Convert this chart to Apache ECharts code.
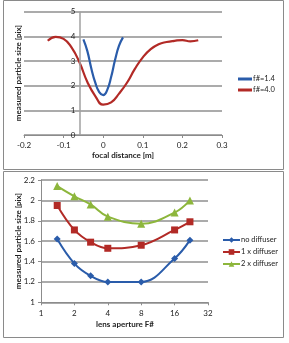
<!DOCTYPE html>
<html><head><meta charset="utf-8">
<script src="https://cdn.jsdelivr.net/npm/echarts@6/dist/echarts.min.js"></script>
<style>html,body{margin:0;padding:0;background:#fff}#c{width:289px;height:343px}</style>
</head><body><div id="c"></div>
<script>
// Top chart: focal distance sweep
const focalX14 = [-0.05, -0.04, -0.03, -0.02, -0.01, 0, 0.01, 0.02, 0.03, 0.04, 0.05];
const size14   = [3.88, 3.4, 2.7, 2.12, 1.74, 1.62, 1.82, 2.35, 3.05, 3.62, 3.96];
const focalX40 = [-0.14, -0.12, -0.10, -0.08, -0.06, -0.04, -0.02, 0, 0.02, 0.04, 0.06, 0.08, 0.10, 0.12, 0.14, 0.16, 0.18, 0.20, 0.22, 0.24];
const size40   = [3.82, 3.98, 3.9, 3.55, 2.95, 2.15, 1.58, 1.23, 1.32, 1.68, 2.12, 2.68, 3.15, 3.48, 3.68, 3.77, 3.82, 3.85, 3.8, 3.84];
const topXTicks = [-0.2, 0.3, 0.1];
const topYTicks = [0, 5, 1];
const topYCrossX = -0.06;   // where the vertical axis crosses the focal-distance axis
// Bottom chart: lens aperture
const fNumbers    = [1.4, 2, 2.8, 4, 8, 16, 22];
const noDiffuser  = [1.62, 1.38, 1.26, 1.20, 1.20, 1.43, 1.61];
const oneDiffuser = [1.95, 1.71, 1.59, 1.53, 1.56, 1.71, 1.79];
const twoDiffuser = [2.14, 2.04, 1.96, 1.84, 1.77, 1.88, 2.00];
const botYTicks = [1, 2.2, 0.2];

const F = 'Lato, "Open Sans", sans-serif';
const GRID = '#ababab', AX = '#8c8c8c', TXT = '#222';
const BLUE = '#2a5caa', RED = '#b22a26', GREEN = '#8db63c';
const pairs = (xs, ys) => xs.map((x, i) => [x, ys[i]]);

const chart = echarts.init(document.getElementById('c'), null, {renderer: 'canvas'});
const lbl = {fontFamily: F, fontSize: 8, color: TXT};
chart.setOption({
  animation: false,
  grid: [
    {left: 24, top: 11.7, width: 198, height: 123.3},
    {left: 41, top: 180, width: 167, height: 122.3}
  ],
  xAxis: [
    {gridIndex: 0, type: 'value', min: topXTicks[0], max: topXTicks[1], interval: topXTicks[2],
     axisLine: {show: true, onZero: false, lineStyle: {color: AX, width: 1}},
     axisTick: {show: true, length: 3, lineStyle: {color: AX}},
     axisLabel: Object.assign({margin: 6, formatter: v => String(Math.round(v * 10) / 10)}, lbl),
     splitLine: {show: false}},
    {gridIndex: 1, type: 'log', logBase: 2, min: 1, max: 32,
     axisLine: {show: true, onZero: false, lineStyle: {color: AX, width: 1}},
     axisTick: {show: true, length: 3, lineStyle: {color: AX}},
     axisLabel: Object.assign({margin: 7}, lbl),
     splitLine: {show: false}}
  ],
  yAxis: [
    {gridIndex: 0, type: 'value', min: topYTicks[0], max: topYTicks[1], interval: topYTicks[2],
     axisLine: {show: false, onZero: false}, axisTick: {show: false},
     axisLabel: Object.assign({margin: -51.4, align: 'right'}, lbl),
     splitLine: {show: true, lineStyle: {color: GRID, width: 2}}},
    {gridIndex: 1, type: 'value', min: botYTicks[0], max: botYTicks[1], interval: botYTicks[2],
     axisLine: {show: true, onZero: false, lineStyle: {color: AX, width: 1}},
     axisTick: {show: true, length: 3, inside: false, lineStyle: {color: AX}},
     axisLabel: Object.assign({margin: 6, formatter: v => String(Math.round(v * 10) / 10)}, lbl),
     splitLine: {show: true, lineStyle: {color: GRID, width: 2}}}
  ],
  legend: [
    {orient: 'vertical', left: 238, top: 75, padding: 0, itemWidth: 14, itemHeight: 3, itemGap: 3,
     textStyle: {fontFamily: F, fontSize: 7.5, color: TXT, padding: [0, 0, 0, -4]},
     data: [{name: 'f#=1.4', icon: 'rect'}, {name: 'f#=4.0', icon: 'rect'}]},
    {orient: 'vertical', left: 222, top: 236, padding: 0, itemWidth: 17, itemHeight: 7, itemGap: 4,
     textStyle: {fontFamily: F, fontSize: 7.5, color: TXT, padding: [0, 0, 0, -4]},
     data: ['no diffuser', '1 x diffuser', '2 x diffuser']}
  ],
  series: [
    {name: 'f#=1.4', type: 'line', xAxisIndex: 0, yAxisIndex: 0, smooth: 0.5, showSymbol: false,
     data: pairs(focalX14, size14), lineStyle: {color: BLUE, width: 2.2}, itemStyle: {color: BLUE}, z: 3},
    {name: 'f#=4.0', type: 'line', xAxisIndex: 0, yAxisIndex: 0, smooth: 0.5, showSymbol: false,
     data: pairs(focalX40, size40), lineStyle: {color: RED, width: 2.2}, itemStyle: {color: RED}, z: 3,
     markLine: {silent: true, symbol: ['none', 'none'], label: {show: false}, animation: false,
       lineStyle: {color: '#a0a0a0', width: 1.5, type: 'solid'}, emphasis: {disabled: true},
       data: [{xAxis: topYCrossX}]}},
    {name: 'no diffuser', type: 'line', xAxisIndex: 1, yAxisIndex: 1, smooth: 0.4,
     symbol: 'diamond', symbolSize: 7, data: pairs(fNumbers, noDiffuser),
     lineStyle: {color: BLUE, width: 2}, itemStyle: {color: BLUE}},
    {name: '1 x diffuser', type: 'line', xAxisIndex: 1, yAxisIndex: 1, smooth: 0.4,
     symbol: 'rect', symbolSize: 7, data: pairs(fNumbers, oneDiffuser),
     lineStyle: {color: RED, width: 2}, itemStyle: {color: RED}},
    {name: '2 x diffuser', type: 'line', xAxisIndex: 1, yAxisIndex: 1, smooth: 0.4,
     symbol: 'triangle', symbolSize: 8, data: pairs(fNumbers, twoDiffuser),
     lineStyle: {color: GREEN, width: 2}, itemStyle: {color: GREEN}}
  ],
  graphic: [
    {type: 'rect', shape: {x: 3.5, y: 0.5, width: 280, height: 169}, style: {fill: 'none', stroke: '#8a8a8a', lineWidth: 1}, z: -1},
    {type: 'rect', shape: {x: 3.5, y: 171.5, width: 280, height: 166}, style: {fill: 'none', stroke: '#8a8a8a', lineWidth: 1}, z: -1},
    {type: 'text', x: 123, y: 155, style: {text: 'focal distance [m]', font: 'bold 8px ' + F, fill: TXT, textAlign: 'center', textVerticalAlign: 'middle'}},
    {type: 'text', x: 18, y: 73, rotation: Math.PI / 2, style: {text: 'measured particle size [pix]', font: 'bold 8px ' + F, fill: TXT, textAlign: 'center', textVerticalAlign: 'middle'}},
    {type: 'text', x: 125, y: 324, style: {text: 'lens aperture F#', font: 'bold 8px ' + F, fill: TXT, textAlign: 'center', textVerticalAlign: 'middle'}},
    {type: 'text', x: 18, y: 241, rotation: Math.PI / 2, style: {text: 'measured particle size [pix]', font: 'bold 8px ' + F, fill: TXT, textAlign: 'center', textVerticalAlign: 'middle'}}
  ]
});
</script></body></html>
